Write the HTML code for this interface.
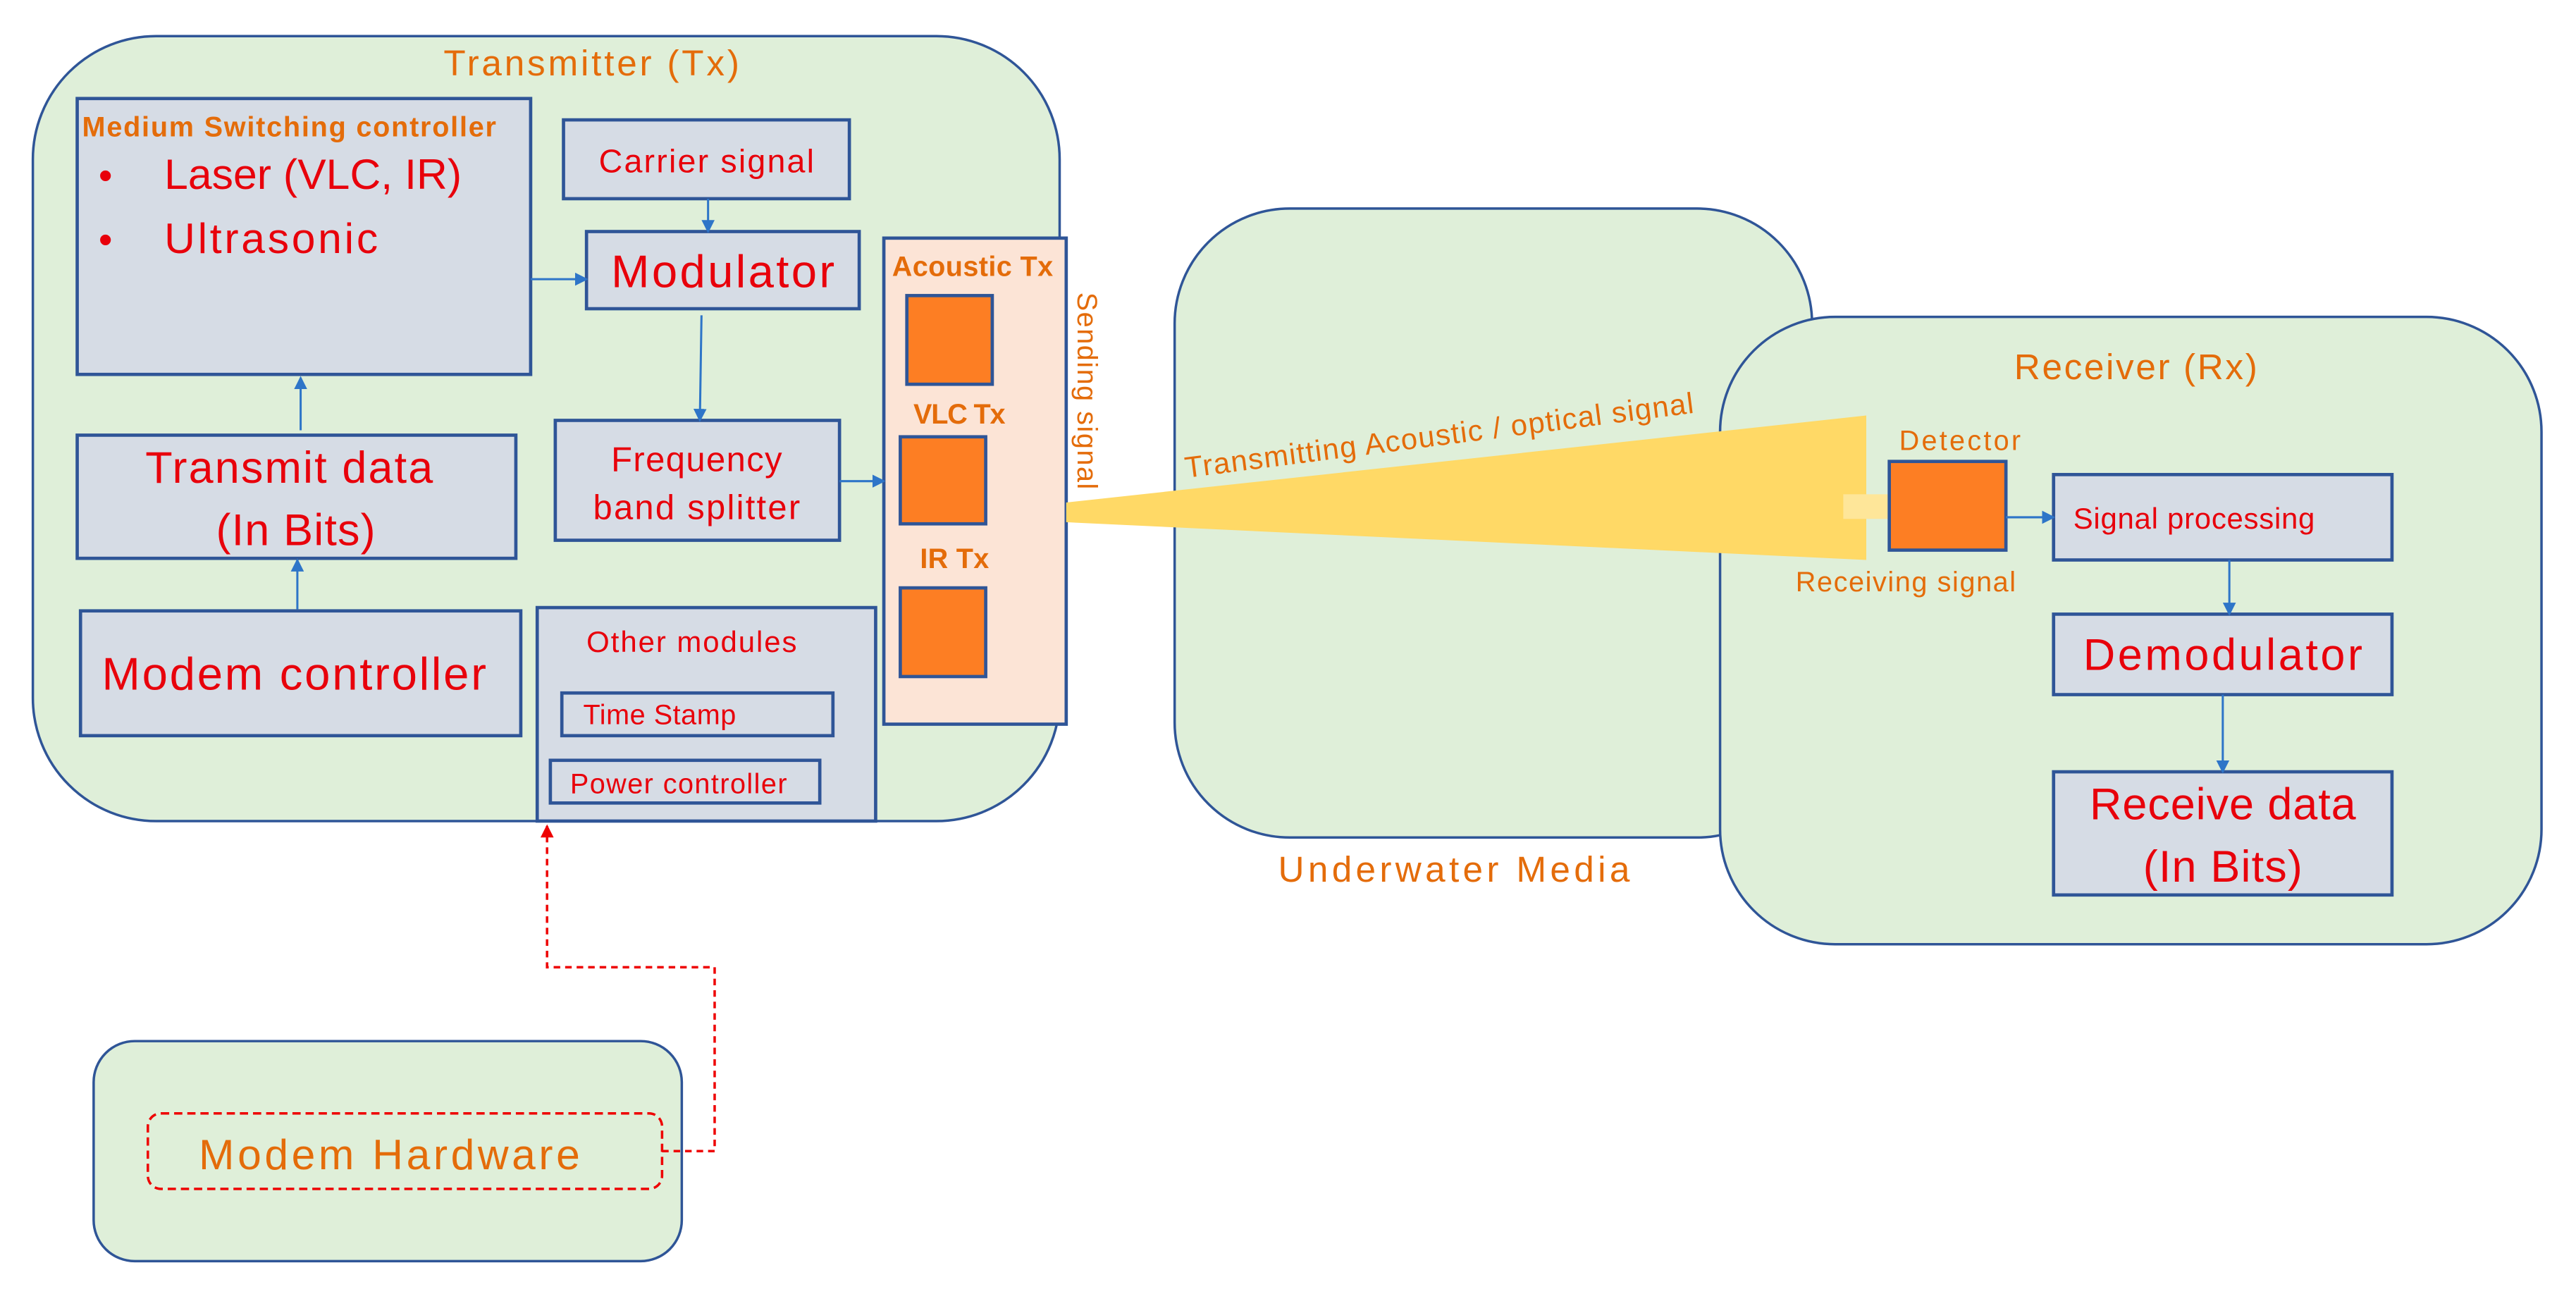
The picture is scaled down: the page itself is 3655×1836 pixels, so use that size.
<!DOCTYPE html>
<html><head><meta charset="utf-8"><style>html,body{margin:0;padding:0;background:#fff}svg{display:block}</style></head>
<body>
<svg width="3655" height="1836" viewBox="0 0 1568 788" preserveAspectRatio="none" xmlns="http://www.w3.org/2000/svg" font-family="Liberation Sans, sans-serif">
<defs>
<marker id="ab" markerWidth="8" markerHeight="8" refX="7" refY="4" orient="auto" markerUnits="userSpaceOnUse"><path d="M0,0 L8,4 L0,8 z" fill="#2e75c8"/></marker>
<marker id="ar" markerWidth="8" markerHeight="8" refX="7" refY="4" orient="auto" markerUnits="userSpaceOnUse"><path d="M0,0 L8,4 L0,8 z" fill="#e00"/></marker>
</defs>
<!-- Containers -->
<rect x="20" y="22" width="625" height="478" rx="75" fill="#dfefd9" stroke="#2f5597" stroke-width="1.5"/>
<rect x="715" y="127" width="388" height="383" rx="70" fill="#dfefd9" stroke="#2f5597" stroke-width="1.5"/>
<rect x="1047" y="193" width="500" height="382" rx="70" fill="#dfefd9" stroke="#2f5597" stroke-width="1.5"/>
<rect x="57" y="634" width="358" height="134" rx="25" fill="#dfefd9" stroke="#2f5597" stroke-width="1.5"/>

<g fill="#e46c0a">
<text x="360" y="46" font-size="22" text-anchor="middle" textLength="180">Transmitter (Tx)</text>
<text x="885" y="537" font-size="22" text-anchor="middle" textLength="214">Underwater Media</text>
<text x="1300" y="231" font-size="22" text-anchor="middle" textLength="148">Receiver (Rx)</text>
</g>

<!-- boxes -->
<g fill="#d6dce5" stroke="#2f5597" stroke-width="2">
<rect x="47" y="60" width="276" height="168"/>
<rect x="343" y="73" width="174" height="48"/>
<rect x="357" y="141" width="166" height="47"/>
<rect x="338" y="256" width="173" height="73"/>
<rect x="47" y="265" width="267" height="75"/>
<rect x="49" y="372" width="268" height="76"/>
<rect x="327" y="370" width="206" height="130"/>
<rect x="342" y="422" width="165" height="26"/>
<rect x="335" y="463" width="164" height="26"/>
<rect x="1250" y="289" width="206" height="52"/>
<rect x="1250" y="374" width="206" height="49"/>
<rect x="1250" y="470" width="206" height="75"/>
</g>
<rect x="538" y="145" width="111" height="296" fill="#fce4d6" stroke="#2f5597" stroke-width="2"/>
<g fill="#fd7e23" stroke="#2f5597" stroke-width="2">
<rect x="552" y="180" width="52" height="54"/>
<rect x="548" y="266" width="52" height="53"/>
<rect x="548" y="358" width="52" height="54"/>
</g>

<!-- beam -->
<polygon points="649,306 1136,253 1136,341 649,318" fill="#ffd966"/>
<rect x="1122" y="301" width="29" height="15" fill="#fee699"/>
<rect x="1150" y="281" width="71" height="54" fill="#fd7e23" stroke="#2f5597" stroke-width="2"/>

<!-- blue arrows -->
<g stroke="#2e75c8" stroke-width="1.3" fill="none" marker-end="url(#ab)">
<line x1="431" y1="121" x2="431" y2="141"/>
<line x1="323" y1="170" x2="357" y2="170"/>
<line x1="427" y1="192" x2="426" y2="256"/>
<line x1="511" y1="293" x2="538" y2="293"/>
<line x1="183" y1="262" x2="183" y2="230"/>
<line x1="181" y1="371" x2="181" y2="341"/>
<line x1="1221" y1="315" x2="1250" y2="315"/>
<line x1="1357" y1="341" x2="1357" y2="374"/>
<line x1="1353" y1="423" x2="1353" y2="470"/>
</g>

<!-- modem hardware -->
<rect x="90" y="678" width="313" height="46" rx="8" fill="none" stroke="#e00" stroke-width="1.5" stroke-dasharray="5,3"/>
<text x="237" y="712" font-size="26" fill="#e46c0a" text-anchor="middle" textLength="232">Modem Hardware</text>
<polyline points="403,701 435,701 435,589 333,589 333,503" fill="none" stroke="#e00" stroke-width="1.5" stroke-dasharray="4,3" marker-end="url(#ar)"/>

<!-- orange labels -->
<g fill="#e46c0a" font-weight="bold" font-size="17">
<text x="50" y="83" textLength="252">Medium Switching controller</text>
<text x="543" y="168" textLength="98">Acoustic Tx</text>
<text x="556" y="258" textLength="56">VLC Tx</text>
<text x="560" y="346" textLength="42">IR Tx</text>
</g>
<g fill="#e46c0a" font-size="17">
<text transform="translate(656,178) rotate(90)" textLength="120">Sending signal</text>
<text x="1193" y="274" text-anchor="middle" textLength="74">Detector</text>
<text x="1160" y="360" text-anchor="middle" textLength="134">Receiving signal</text>
<text transform="translate(722,291) rotate(-7.3)" font-size="18" textLength="312">Transmitting Acoustic / optical signal</text>
</g>

<!-- red texts -->
<g fill="#e8000b">
<text x="60" y="115" font-size="24">•</text>
<text x="100" y="115" font-size="26" textLength="181">Laser (VLC, IR)</text>
<text x="60" y="154" font-size="24">•</text>
<text x="100" y="154" font-size="26" textLength="130">Ultrasonic</text>
<text x="430" y="105" font-size="20" text-anchor="middle" textLength="131">Carrier signal</text>
<text x="440" y="175" font-size="28" text-anchor="middle" textLength="136">Modulator</text>
<text x="424" y="287" font-size="21" text-anchor="middle" textLength="104">Frequency</text>
<text x="424" y="316" font-size="21" text-anchor="middle" textLength="126">band splitter</text>
<text x="176" y="294" font-size="27" text-anchor="middle" textLength="175">Transmit data</text>
<text x="180" y="332" font-size="27" text-anchor="middle" textLength="97">(In Bits)</text>
<text x="179" y="420" font-size="28" text-anchor="middle" textLength="234">Modem controller</text>
<text x="421" y="397" font-size="18" text-anchor="middle" textLength="128">Other modules</text>
<text x="355" y="441" font-size="17" textLength="93">Time Stamp</text>
<text x="347" y="483" font-size="17" textLength="132">Power controller</text>
<text x="1262" y="322" font-size="18" textLength="147">Signal processing</text>
<text x="1353" y="408" font-size="27" text-anchor="middle" textLength="170">Demodulator</text>
<text x="1353" y="499" font-size="27" text-anchor="middle" textLength="162">Receive data</text>
<text x="1353" y="537" font-size="27" text-anchor="middle" textLength="97">(In Bits)</text>
</g>
</svg>
</body></html>
